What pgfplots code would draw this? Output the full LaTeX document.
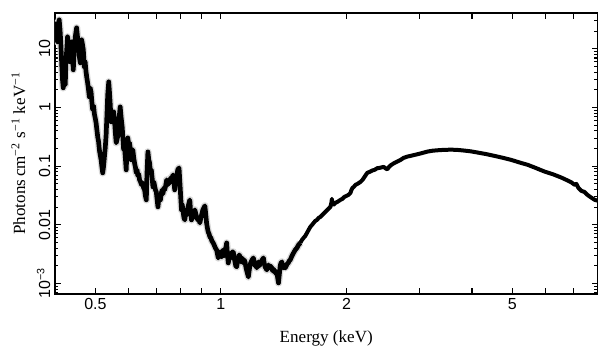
\documentclass[border=0pt]{standalone}
\usepackage{fontspec}
\setmainfont{Liberation Serif}
\setsansfont{Liberation Sans}
\usepackage{pgfplots}
\usepackage{pgfplotstable}
\pgfplotsset{compat=1.18}

% Noisy low-energy part of the spectrum
\pgfplotstableread{
E F
0.3982 21.18
0.4000 26.82
0.4020 15.47
0.4038 22.92
0.4056 13.22
0.4076 26.82
0.4094 31.38
0.4113 21.18
0.4133 11.75
0.4152 5.355
0.4170 2.970
0.4186 2.169
0.4210 2.746
0.4233 2.440
0.4249 6.025
0.4268 9.654
0.4287 16.09
0.4309 11.75
0.4328 13.22
0.4345 6.025
0.4364 9.654
0.4383 13.22
0.4405 7.934
0.4425 4.400
0.4449 9.654
0.4474 16.09
0.4507 22.92
0.4532 15.47
0.4557 10.86
0.4580 7.050
0.4600 5.792
0.4618 10.44
0.4634 14.30
0.4657 11.75
0.4677 9.654
0.4703 4.951
0.4724 6.025
0.4748 4.067
0.4769 3.213
0.4790 2.639
0.4814 2.005
0.4835 1.523
0.4857 2.169
0.4881 1.853
0.4903 1.251
0.4925 0.9138
0.4950 1.069
0.4972 0.7809
0.4994 0.6674
0.5019 0.5482
0.5041 0.4164
0.5064 0.3162
0.5089 0.2599
0.5111 0.1898
0.5134 0.1559
0.5160 0.1281
0.5183 0.0973
0.5206 0.0768
0.5232 0.1012
0.5255 0.1441
0.5279 0.2053
0.5305 0.3421
0.5329 0.7508
0.5352 1.647
0.5382 2.746
0.5403 1.853
0.5424 1.203
0.5454 0.5702
0.5478 0.7508
0.5503 0.6939
0.5530 0.8444
0.5555 0.6167
0.5580 0.3848
0.5608 0.2498
0.5632 0.2811
0.5657 0.3290
0.5695 0.6167
0.5733 1.028
0.5765 0.6674
0.5797 0.4686
0.5823 0.2811
0.5845 0.1898
0.5871 0.2135
0.5904 0.1281
0.5927 0.0865
0.5953 0.1898
0.5980 0.3041
0.6010 0.2309
0.6036 0.2498
0.6070 0.1898
0.6094 0.1281
0.6121 0.1754
0.6148 0.1898
0.6179 0.1386
0.6206 0.1138
0.6241 0.0935
0.6265 0.0768
0.6293 0.0865
0.6321 0.0683
0.6352 0.0739
0.6381 0.0584
0.6416 0.0540
0.6452 0.0480
0.6488 0.0519
0.6524 0.0426
0.6561 0.0394
0.6590 0.0311
0.6623 0.0266
0.6645 0.0710
0.6682 0.1754
0.6715 0.1281
0.6745 0.1138
0.6775 0.0799
0.6809 0.0865
0.6839 0.0632
0.6870 0.0443
0.6904 0.0540
0.6935 0.0461
0.6966 0.0394
0.7000 0.0364
0.7031 0.0266
0.7063 0.0202
0.7098 0.0288
0.7130 0.0324
0.7161 0.0266
0.7197 0.0350
0.7229 0.0394
0.7261 0.0337
0.7298 0.0426
0.7330 0.0394
0.7371 0.0461
0.7412 0.0584
0.7453 0.0480
0.7494 0.0540
0.7536 0.0519
0.7578 0.0632
0.7620 0.0584
0.7675 0.0710
0.7714 0.0540
0.7748 0.0394
0.7791 0.0540
0.7834 0.0683
0.7878 0.0865
0.7935 0.0935
0.7980 0.0480
0.8042 0.01796
0.8078 0.02186
0.8114 0.01660
0.8154 0.01312
0.8191 0.01212
0.8236 0.01660
0.8282 0.01476
0.8328 0.01943
0.8374 0.02273
0.8421 0.0266
0.8458 0.01660
0.8500 0.01212
0.8538 0.01476
0.8576 0.01312
0.8619 0.01660
0.8657 0.01796
0.8705 0.01535
0.8754 0.01312
0.8802 0.01212
0.8851 0.01261
0.8901 0.01077
0.8950 0.01312
0.9000 0.01535
0.9050 0.01796
0.9101 0.01943
0.9152 0.02102
0.9193 0.01535
0.9238 0.01077
0.9279 0.00885
0.9320 0.00756
0.9367 0.00699
0.9408 0.00622
0.9461 0.00598
0.9513 0.00531
0.9582 0.00491
0.9630 0.00454
0.9673 0.00420
0.9727 0.00388
0.9765 0.00373
0.9808 0.00319
0.9851 0.00272
0.9901 0.003065
0.9945 0.003447
0.9989 0.003065
1.0039 0.002833
1.0083 0.003447
1.0128 0.00373
1.0179 0.002946
1.0224 0.00319
1.0270 0.004035
1.0321 0.00491
1.0367 0.003065
1.0413 0.002237
1.0465 0.00272
1.0512 0.00319
1.0570 0.00272
1.0629 0.003447
1.0706 0.003447
1.0759 0.00272
1.0807 0.002327
1.0855 0.001989
1.0909 0.001912
1.0957 0.002327
1.1006 0.00272
1.1061 0.003065
1.1111 0.002833
1.1173 0.002327
1.1235 0.00272
1.1316 0.002237
1.1373 0.002518
1.1423 0.002327
1.1487 0.001839
1.1551 0.001571
1.1634 0.001291
1.1693 0.001700
1.1745 0.002068
1.1810 0.002327
1.1876 0.002518
1.1962 0.00272
1.2022 0.002327
1.2075 0.001989
1.2142 0.002068
1.2189 0.001839
1.2244 0.002068
1.2298 0.002327
1.2359 0.001989
1.2414 0.002151
1.2483 0.002327
1.2553 0.002518
1.2644 0.00272
1.2707 0.002151
1.2764 0.001912
1.2885 0.001700
1.2942 0.001912
1.3000 0.002068
1.3065 0.001839
1.3123 0.001989
1.3247 0.001839
1.3306 0.001634
1.3365 0.001768
1.3432 0.001571
1.3491 0.001634
1.3566 0.001453
1.3619 0.001511
1.3680 0.001241
1.3740 0.001020
1.3809 0.001453
1.3871 0.001989
1.3932 0.002237
1.4002 0.002327
1.4064 0.001989
1.4127 0.001839
1.4197 0.001912
1.4261 0.001839
1.4340 0.001989
1.4419 0.002151
1.4499 0.002237
1.4580 0.002421
1.4661 0.002518
1.4800 0.002946
1.4932 0.003315
1.5073 0.00373
1.5216 0.004035
1.5351 0.00454
1.5497 0.00491
}\lowdata

% Smooth high-energy part of the spectrum
\pgfplotstableread{
E F
1.5497 0.00491
1.5643 0.005525
1.5783 0.00598
1.5932 0.006464
1.6083 0.007275
1.6226 0.008185
1.6380 0.009209
1.6535 0.009961
1.6683 0.01077
1.6841 0.01166
1.7000 0.01212
1.7152 0.01312
1.7314 0.01364
1.7507 0.01476
1.7702 0.01596
1.7899 0.01727
1.8099 0.01868
1.8301 0.0202
1.8403 0.02364
1.8454 0.02767
1.8505 0.02273
1.8608 0.02186
1.8815 0.02364
1.9025 0.02459
1.9344 0.0266
1.9560 0.02767
1.9778 0.02993
1.9998 0.0311
2.0221 0.0324
2.0446 0.0350
2.0560 0.0394
2.0674 0.0426
2.0824 0.0443
2.1021 0.0480
2.1255 0.04989
2.1612 0.0540
2.1853 0.0584
2.2097 0.06569
2.2430 0.0768
2.2718 0.0799
2.3099 0.08479
2.3356 0.0865
2.3709 0.09245
2.4013 0.0935
2.4281 0.09539
2.4552 0.0973
2.4826 0.09173
2.5061 0.08816
2.5242 0.09539
2.5524 0.1032
2.6000 0.1125
2.6384 0.1184
2.6975 0.1281
2.7428 0.1386
2.8002 0.1458
2.8519 0.1499
2.9158 0.1559
2.9862 0.1622
3.0482 0.1687
3.1287 0.1775
3.2220 0.1838
3.3310 0.1875
3.4303 0.1898
3.5600 0.1912
3.6805 0.1898
3.8325 0.1846
3.9775 0.1789
4.1280 0.1707
4.3223 0.1609
4.5257 0.1499
4.7492 0.1386
4.9645 0.1281
5.1898 0.1161
5.4462 0.1052
5.7028 0.09245
5.9713 0.08088
6.2665 0.07245
6.5509 0.06389
6.7726 0.05724
6.9245 0.05292
7.0523 0.0480
7.1191 0.04989
7.1984 0.0426
7.3193 0.03790
7.4420 0.0364
7.5668 0.0324
7.6639 0.03029
7.7796 0.02822
7.8795 0.0266
8.0426 0.02558
}\highdata

\begin{document}
\begin{tikzpicture}
\begin{axis}[
  at={(0,0)}, anchor=south west,
  scale only axis, width=406.9pt, height=210.75pt,
  xmode=log, ymode=log,
  xmin=0.4, xmax=8, ymin=6.6e-4, ymax=41,
  xtick={0.5,0.6,0.7,0.8,0.9,1,2,3,4,5,6,7},
  xticklabels={0.5,,,,,1,2,,,5,,},
  minor xtick={},
  ytick={1e-3,1e-2,0.1,1,10},
  yticklabels={10\textsuperscript{−3},0.01,0.1,1,10},
  minor ytick={7e-4,8e-4,9e-4,2e-3,3e-3,4e-3,5e-3,6e-3,7e-3,8e-3,9e-3,
    0.02,0.03,0.04,0.05,0.06,0.07,0.08,0.09,0.2,0.3,0.4,0.5,0.6,0.7,0.8,0.9,
    2,3,4,5,6,7,8,9,20,30,40},
  tick align=inside,
  major tick length=4.5pt, minor tick length=2.5pt,
  axis line style={line width=0.9pt},
  every tick/.style={line width=0.8pt, black},
  tick label style={font=\sffamily\fontsize{12}{14}\selectfont},
  yticklabel style={rotate=90, anchor=south},
  xlabel={Energy (keV)},
  ylabel={Photons\,cm\textsuperscript{−2} s\textsuperscript{−1} keV\textsuperscript{−1}},
  label style={font=\fontsize{12.8}{15}\selectfont},
  xlabel style={at={(axis description cs:0.5,-0.157)}, anchor=center},
  ylabel style={at={(axis description cs:-0.0675,0.5)}, anchor=center},
  clip=true,
]
\addplot[gray!30, line width=5.5pt, line join=round, mark=none] table[x=E, y=F] {\lowdata};
\addplot[black, line width=3.5pt, line join=round, mark=none] table[x=E, y=F] {\lowdata};
\addplot[black, line width=3pt, line join=round, mark=none] table[x=E, y=F] {\highdata};
\end{axis}
\pgfresetboundingbox
\path[use as bounding box] (-41.25pt,-47.25pt) rectangle (415.5pt,220.5pt);
\end{tikzpicture}
\end{document}
